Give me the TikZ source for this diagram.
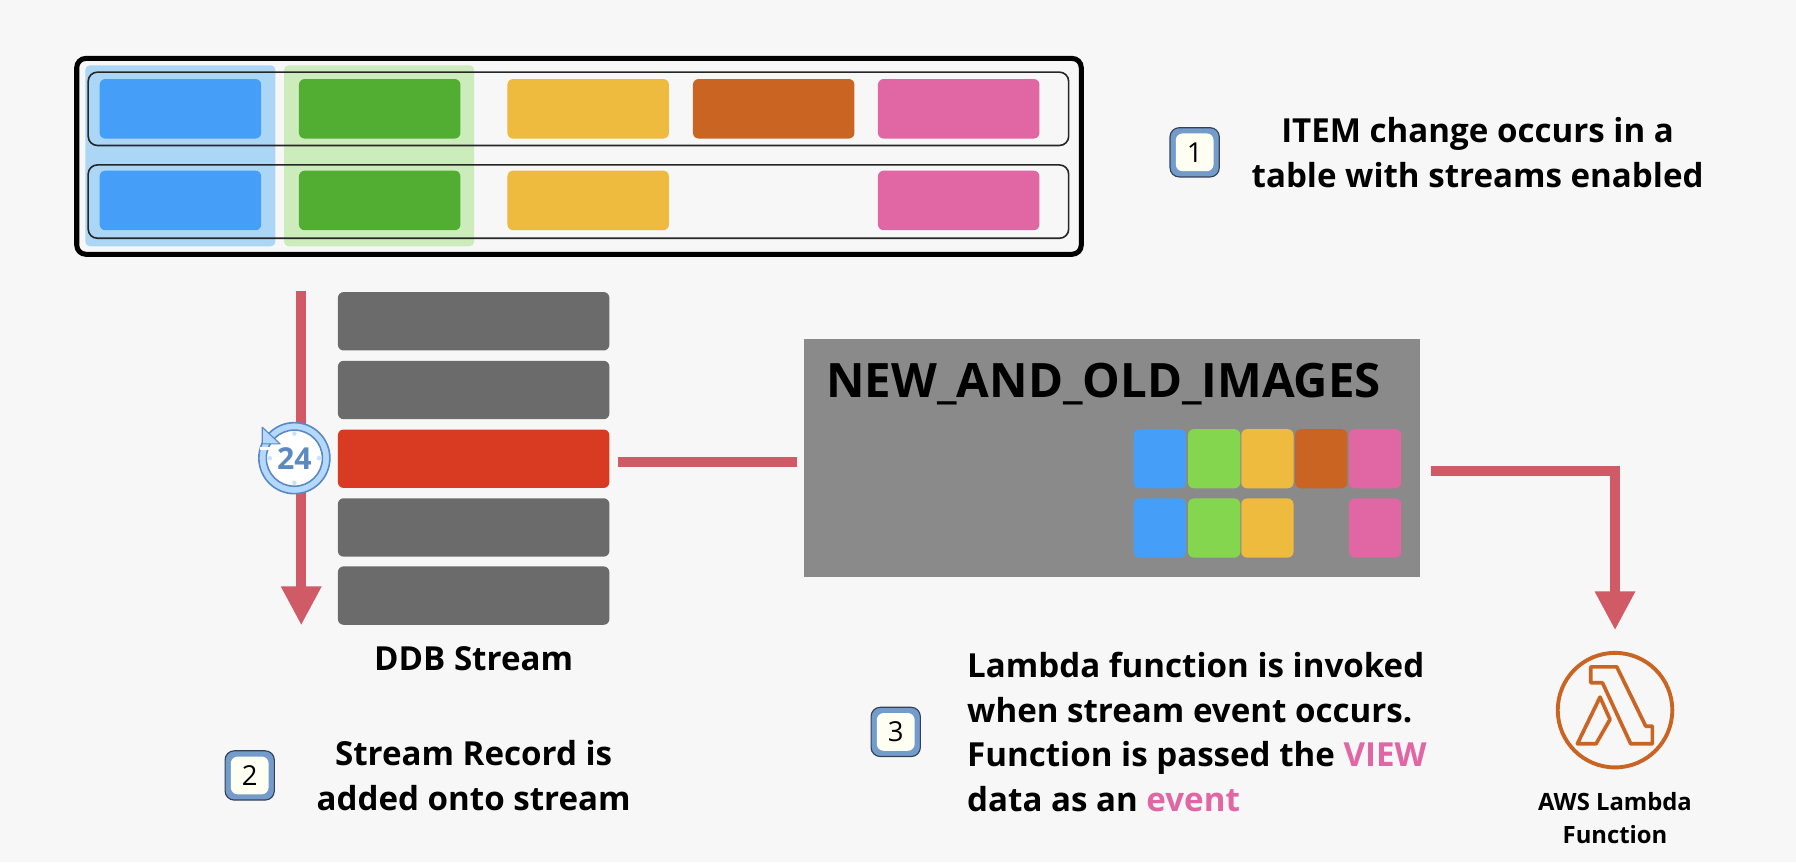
\documentclass[tikz,border=0pt]{standalone}
\usepackage{xcolor}
\usepackage{fontspec}
\setmainfont{Open Sans}
\usepackage{tikz}
\usetikzlibrary{calc}
\usetikzlibrary{arrows.meta}
\usetikzlibrary{shapes.geometric}
\definecolor{paper}{HTML}{F7F7F7}
\definecolor{cblue}{HTML}{459FF9}
\definecolor{cgreen}{HTML}{52AE32}
\definecolor{clime}{HTML}{83D64E}
\definecolor{cyellow}{HTML}{EFBB3F}
\definecolor{corange}{HTML}{C96423}
\definecolor{cpink}{HTML}{E066A4}
\definecolor{crose}{HTML}{D05A66}
\definecolor{cgray}{HTML}{6B6B6B}
\definecolor{cred}{HTML}{D93A22}
\definecolor{cring}{HTML}{5B8AC2}
\definecolor{cedge}{HTML}{33415A}
\tikzset{>=latex}
\tikzset{
  cell/.style = {rectangle, rounded corners = 2.5pt, inner sep = 0, minimum width = 70.5pt, minimum height = 26pt},
  rec/.style = {rectangle, rounded corners = 2.5pt, inner sep = 0, minimum width = 118.5pt, minimum height = 25.5pt},
  tiny cell/.style = {rectangle, rounded corners = 2.5pt, inner sep = 0, minimum width = 22.8pt, minimum height = 25.8pt},
  band/.style = {rectangle, rounded corners = 2pt, inner sep = 0, minimum width = 83pt, minimum height = 79pt},
  row/.style = {rectangle, draw = black!85, line width = .7pt, rounded corners = 4pt, inner sep = 0, minimum width = 428pt, minimum height = 32pt},
  badge back/.style = {rectangle, draw = cedge, fill = cring!85!white, line width = .5pt, rounded corners = 4pt, inner sep = 0, minimum size = 21.5pt},
  badge face/.style = {rectangle, fill = yellow!5!white, rounded corners = 3pt, inner sep = 0, minimum size = 16.5pt, font = \fontsize{12}{14}\selectfont},
  label/.style = {draw = none, inner sep = 0, align = center, font = \fontsize{14.45}{19.5}\selectfont\bfseries},
  link/.style = {draw = crose, line width = 4.5pt},
  link head/.style = {link, -{Triangle[length = 17pt, width = 16.5pt]}}
}

\begin{document}
\begin{tikzpicture}[x = .5pt, y = -.5pt]
\useasboundingbox [fill = paper] (0, 0) rectangle (1568, 752.6);

\node [band, fill = {rgb,255:red,171;green,214;blue,245}] (BB) at (157.5, 136) {};
\node [band, fill = {rgb,255:red,205;green,236;blue,187}] (BG) at (331, 136) {};

\node [row] (R1) at (505, 95) {};
\node [row] (R2) at (505, 176) {};
\node [rectangle, draw = black, line width = 2.2pt, rounded corners = 4pt, inner sep = 0, minimum width = 438.5pt, minimum height = 85.5pt] (T) at (505.5, 136.5) {};

\node [cell, fill = cblue] (A1) at (157.5, 95) {};
\node [cell, fill = cgreen] (A2) at (331.5, 95) {};
\node [cell, fill = cyellow] (A3) at (513.5, 95) {};
\node [cell, fill = corange] (A4) at (675.5, 95) {};
\node [cell, fill = cpink] (A5) at (837, 95) {};
\node [cell, fill = cblue] (B1) at (157.5, 175) {};
\node [cell, fill = cgreen] (B2) at (331.5, 175) {};
\node [cell, fill = cyellow] (B3) at (513.5, 175) {};
\node [cell, fill = cpink] (B5) at (837, 175) {};

\coordinate (S0) at (263, 254);
\coordinate (S1) at (263, 546);
\draw [link head] (S0) to (S1);

\node [rec, fill = cgray] (S1R) at (413.5, 280.5) {};
\node [rec, fill = cgray] (S2R) at (413.5, 340.5) {};
\node [rec, fill = cred] (S3R) at (413.5, 400.5) {};
\node [rec, fill = cgray] (S4R) at (413.5, 460.5) {};
\node [rec, fill = cgray] (S5R) at (413.5, 520) {};

\node [circle, draw = cring, fill = cblue!40!white, line width = .7pt, inner sep = 0, minimum size = 31pt] (C) at (257, 400) {};
\node [circle, draw = cring, fill = white, line width = .7pt, inner sep = 0, minimum size = 24.5pt, text = cring, font = \fontsize{13.2}{15}\selectfont\bfseries] (CF) at (C) {24};
\fill [white] (227, 390) rectangle (237, 392.5);
\fill [cblue!40!white, draw = cring, line width = .5pt, line join = round] (229, 373) -- (229, 387.5) -- (244.5, 387.5) -- cycle;
\fill [cblue!30!white] (257, 378.5) circle (2);
\fill [cblue!30!white] (257, 421.5) circle (2);
\fill [cblue!30!white] (235.5, 400) circle (2);
\fill [cblue!30!white] (278.5, 400) circle (2);

\node [rectangle, fill = black!46, inner sep = 0, minimum width = 269pt, minimum height = 104pt] (G) at (971, 400) {};
\node [draw = none, inner sep = 0, anchor = west, font = \fontsize{20.7}{24}\selectfont\bfseries] (GT) at (721, 335) {NEW\_AND\_OLD\_IMAGES};
\node [tiny cell, fill = cblue] (G1) at (1012.5, 400.5) {};
\node [tiny cell, fill = clime] (G2) at (1060, 400.5) {};
\node [tiny cell, fill = cyellow] (G3) at (1106.5, 400.5) {};
\node [tiny cell, fill = corange] (G4) at (1153.5, 400.5) {};
\node [tiny cell, fill = cpink] (G5) at (1200.5, 400.5) {};
\node [tiny cell, fill = cblue] (H1) at (1012.5, 461) {};
\node [tiny cell, fill = clime] (H2) at (1060, 461) {};
\node [tiny cell, fill = cyellow] (H3) at (1106.5, 461) {};
\node [tiny cell, fill = cpink] (H5) at (1200.5, 461) {};

\node [circle, draw = corange, line width = 1.7pt, inner sep = 0, minimum size = 50pt] (Lam) at (1410, 620) {};
\draw [corange, line width = 1.6pt, line join = round] (1388.8, 582.2) -- (1411.5, 582.2) -- (1436.8, 634) -- (1442.6, 634) -- (1442.6, 649.4) -- (1423.7, 649.4) -- (1399, 596.1) -- (1388.8, 596.1) -- cycle;
\draw [corange, line width = 1.6pt, line join = round] (1396.9, 608.6) -- (1405.6, 628.1) -- (1393.4, 649.4) -- (1377.1, 649.4) -- cycle;

\draw [link, shorten < = 3.5pt, shorten > = 3pt] ([yshift = -1.5pt]S3R.east) to ([yshift = -1.75pt]G.west);
\draw [link head, shorten < = 4.5pt, shorten > = 9pt] ([yshift = -5.5pt]G.east) -| (Lam.north);

\node [badge back] (N1) at (1043, 133) {};
\node [badge face] (N1F) at (N1) {1};
\node [badge back] (N2) at (218, 677) {};
\node [badge face] (N2F) at (N2) {2};
\node [badge back] (N3) at (782, 639) {};
\node [badge face] (N3F) at (N3) {3};

\node [label] (LT1) at (1290, 133) {ITEM change occurs in a\\table with streams enabled};
\node [label] (LT2) at (413.5, 575) {DDB Stream};
\node [label] (LT3) at (413.5, 677) {Stream Record is\\added onto stream};
\node [label, align = left, anchor = west] (LT4) at (844, 639) {Lambda function is invoked\\when stream event occurs.\\Function is passed the \textcolor{cpink}{VIEW}\\data as an \textcolor{cpink}{event}};
\node [label, font = \fontsize{10.4}{14.5}\selectfont\bfseries] (LT5) at (1410, 714) {AWS Lambda\\Function};
\end{tikzpicture}
\end{document}
